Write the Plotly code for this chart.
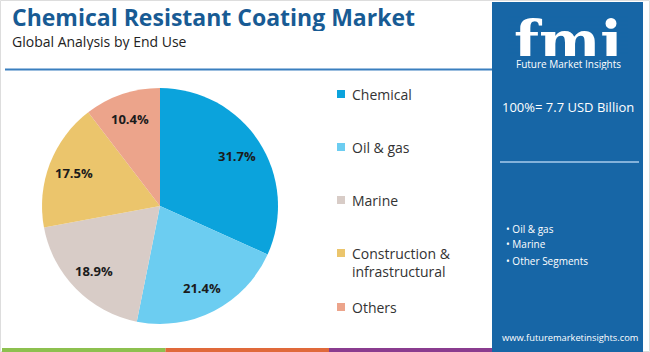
import math
import plotly.graph_objects as go

categories = ["Chemical", "Oil & gas", "Marine", "Construction &<br>infrastructural", "Others"]
shares = [31.7, 21.4, 18.9, 17.5, 10.4]
colors = ["#0ba3dc", "#6ccdf1", "#d8ccc7", "#ebc56c", "#eca48b"]
legend_y = [94, 147, 200, 262.5, 307]  # pixel centres of legend rows
side_bullets = ["• Oil & gas", "• Marine", "• Other Segments"]
side_bullet_y = [229, 244, 261]
total_text = "100%= 7.7 USD Billion"
stripe_colors = ["#8dc04f", "#e0693a", "#8a3c8f"]

W, H = 650, 352
FONT = "Open Sans"


def px(x):
    return x / W


def py(y):
    return 1 - y / H


cx, cy, r = 160, 206, 118

fig = go.Figure()
fig.add_trace(go.Pie(
    labels=categories,
    values=shares,
    sort=False,
    direction="clockwise",
    rotation=0,
    marker=dict(colors=colors, line=dict(width=0)),
    textinfo="none",
    hoverinfo="label+percent",
    showlegend=False,
    domain=dict(x=[px(cx - r), px(cx + r)], y=[py(cy + r), py(cy - r)]),
))

shapes = []
annotations = []

# slice labels placed along each slice's mid-angle
total = sum(shares)
cum = 0.0
for v in shares:
    mid = (cum + v / 2) / total * 2 * math.pi
    cum += v
    rr = 0.78 * r
    lx = cx + rr * math.sin(mid)
    ly = cy - rr * math.cos(mid)
    annotations.append(dict(text=f"<b>{v}%</b>", x=px(lx), y=py(ly), xref="paper", yref="paper",
                            xanchor="center", yanchor="middle", showarrow=False,
                            font=dict(family=FONT, size=13, color="#1b1b1b")))

# outer frame
shapes.append(dict(type="rect", xref="paper", yref="paper", x0=px(0.5), x1=px(W - 0.5),
                   y0=py(H - 0.5), y1=py(0.5), line=dict(color="#dddddd", width=1)))
# title underline
shapes.append(dict(type="line", xref="paper", yref="paper", x0=px(5), x1=px(492),
                   y0=py(69.5), y1=py(69.5), line=dict(color="#3a7fbf", width=2)))
# bottom stripes
for i, c in enumerate(stripe_colors):
    x0 = 2 + i * 163.5
    shapes.append(dict(type="rect", xref="paper", yref="paper", x0=px(x0), x1=px(x0 + 163.5),
                       y0=py(352), y1=py(348), line=dict(width=0), fillcolor=c))
# right panel
shapes.append(dict(type="rect", xref="paper", yref="paper", x0=px(492), x1=px(643),
                   y0=py(352), y1=py(2), line=dict(width=0), fillcolor="#1766a6"))
shapes.append(dict(type="line", xref="paper", yref="paper", x0=px(500), x1=px(639),
                   y0=py(162), y1=py(162), line=dict(color="#a9cdec", width=1.5)))

# title texts
annotations.append(dict(text="<b>Chemical Resistant Coating Market</b>", x=px(11), y=py(17),
                        xref="paper", yref="paper", xanchor="left", yanchor="middle",
                        height=28, borderpad=0,
                        showarrow=False, font=dict(family=FONT, size=23, color="#185b94")))
annotations.append(dict(text="Global Analysis by End Use", x=px(11), y=py(41),
                        xref="paper", yref="paper", xanchor="left", yanchor="middle",
                        height=18, borderpad=0,
                        showarrow=False, font=dict(family=FONT, size=14, color="#222222")))

# legend
for lab, c, y in zip(categories, colors, legend_y):
    first_line_y = y - 9.5 if "<br>" in lab else y
    shapes.append(dict(type="rect", xref="paper", yref="paper", x0=px(337), x1=px(345),
                       y0=py(first_line_y + 4), y1=py(first_line_y - 4),
                       line=dict(width=0), fillcolor=c))
    annotations.append(dict(text=lab, x=px(350), y=py(y), xref="paper", yref="paper",
                            xanchor="left", yanchor="middle", align="left", showarrow=False,
                            font=dict(family=FONT, size=14, color="#333333")))

# logo
annotations.append(dict(text="<b>fmi</b>", x=px(568), y=py(57), xref="paper", yref="paper",
                        xanchor="center", yanchor="bottom", height=48, valign="top",
                        borderpad=0, showarrow=False,
                        font=dict(family="DejaVu Serif", size=58, color="white")))
for yy in range(17, 56, 4):
    shapes.append(dict(type="line", xref="paper", yref="paper", x0=px(508), x1=px(628),
                       y0=py(yy), y1=py(yy), line=dict(color="#1766a6", width=1)))
annotations.append(dict(text="Future Market Insights", x=px(568), y=py(63.5), xref="paper",
                        yref="paper", xanchor="center", yanchor="middle", showarrow=False,
                        height=12, borderpad=0,
                        font=dict(family=FONT, size=10, color="white")))

annotations.append(dict(text=total_text, x=px(568), y=py(107), xref="paper", yref="paper",
                        xanchor="center", yanchor="middle", showarrow=False,
                        font=dict(family=FONT, size=13, color="white")))
for t, y in zip(side_bullets, side_bullet_y):
    annotations.append(dict(text=t, x=px(504), y=py(y), xref="paper", yref="paper",
                            xanchor="left", yanchor="middle", showarrow=False,
                            font=dict(family=FONT, size=10, color="white")))
annotations.append(dict(text="www.futuremarketinsights.com", x=px(570), y=py(337), xref="paper",
                        yref="paper", xanchor="center", yanchor="middle", showarrow=False,
                        font=dict(family=FONT, size=9.3, color="white")))

fig.update_layout(
    width=W, height=H,
    margin=dict(l=0, r=0, t=0, b=0),
    paper_bgcolor="white",
    plot_bgcolor="white",
    shapes=shapes,
    annotations=annotations,
)

fig.write_html("out.html")
